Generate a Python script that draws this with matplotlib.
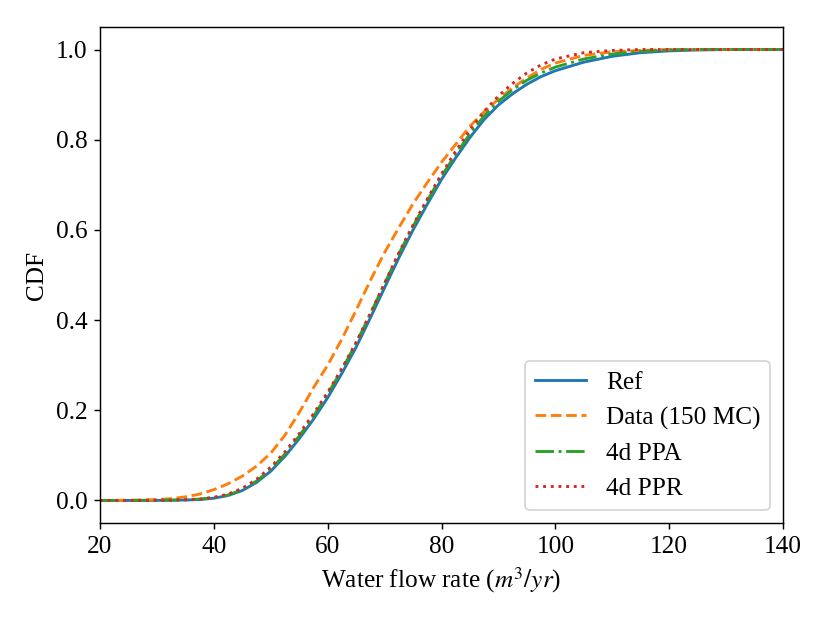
import matplotlib
matplotlib.use("Agg")
import matplotlib.pyplot as plt

plt.rcParams['font.family'] = ['Liberation Serif', 'DejaVu Serif']
plt.rcParams['mathtext.fontset'] = 'stix'
plt.rcParams['font.size'] = 14

# water flow rate grid (m^3/yr)
flow = [20, 25, 30, 32.5, 35, 37.5, 40, 42.5, 45, 47.5, 50, 52.5, 55, 57.5,
        60, 62.5, 65, 67.5, 70, 72.5, 75, 77.5, 80, 82.5, 85, 87.5, 90, 92.5,
        95, 97.5, 100, 105, 110, 115, 120, 125, 130, 140]

cdf_ref = [0.0, 0.0, 0.0002, 0.0005, 0.001, 0.002, 0.005, 0.011, 0.022, 0.040,
           0.065, 0.098, 0.137, 0.180, 0.228, 0.282, 0.340, 0.405, 0.472, 0.538,
           0.600, 0.657, 0.712, 0.760, 0.805, 0.845, 0.877, 0.902, 0.923, 0.940,
           0.953, 0.972, 0.985, 0.993, 0.997, 0.999, 1.0, 1.0]

cdf_data = [0.0, 0.0005, 0.002, 0.004, 0.008, 0.014, 0.024, 0.037, 0.054, 0.076,
            0.105, 0.145, 0.195, 0.250, 0.300, 0.358, 0.422, 0.488, 0.550, 0.605,
            0.658, 0.705, 0.750, 0.790, 0.830, 0.862, 0.890, 0.915, 0.937, 0.956,
            0.970, 0.987, 0.995, 0.998, 1.0, 1.0, 1.0, 1.0]

cdf_ppa = [0.0, 0.0, 0.0003, 0.0008, 0.0015, 0.003, 0.006, 0.012, 0.024, 0.043,
           0.069, 0.103, 0.143, 0.187, 0.236, 0.290, 0.349, 0.414, 0.481, 0.547,
           0.608, 0.665, 0.719, 0.768, 0.813, 0.853, 0.885, 0.911, 0.932, 0.948,
           0.961, 0.979, 0.990, 0.996, 0.999, 1.0, 1.0, 1.0]

cdf_ppr = [0.0, 0.0, 0.0003, 0.0008, 0.0015, 0.003, 0.007, 0.014, 0.027, 0.047,
           0.074, 0.108, 0.148, 0.192, 0.240, 0.293, 0.351, 0.415, 0.482, 0.549,
           0.611, 0.669, 0.724, 0.775, 0.822, 0.863, 0.897, 0.925, 0.948, 0.966,
           0.979, 0.993, 0.998, 1.0, 1.0, 1.0, 1.0, 1.0]

fig = plt.figure(figsize=(8.3 / 1.3, 6.23 / 1.3), dpi=130)
ax = fig.add_axes([0.1205, 0.1605, 0.8229, 0.7962])

ax.plot(flow, cdf_ref, '-', color='tab:blue', lw=1.6, label='Ref')
ax.plot(flow, cdf_data, '--', color='tab:orange', lw=1.6, label='Data (150 MC)')
ax.plot(flow, cdf_ppa, '-.', color='tab:green', lw=1.6, label='4d PPA')
ax.plot(flow, cdf_ppr, ':', color='tab:red', lw=1.6, label='4d PPR')

ax.set_xlim(20, 140)
ax.set_xlabel(r'Water flow rate ($m^3/yr$)')
ax.set_ylabel('CDF')
ax.legend(loc='lower right')

fig.savefig('out.png', dpi=130)
